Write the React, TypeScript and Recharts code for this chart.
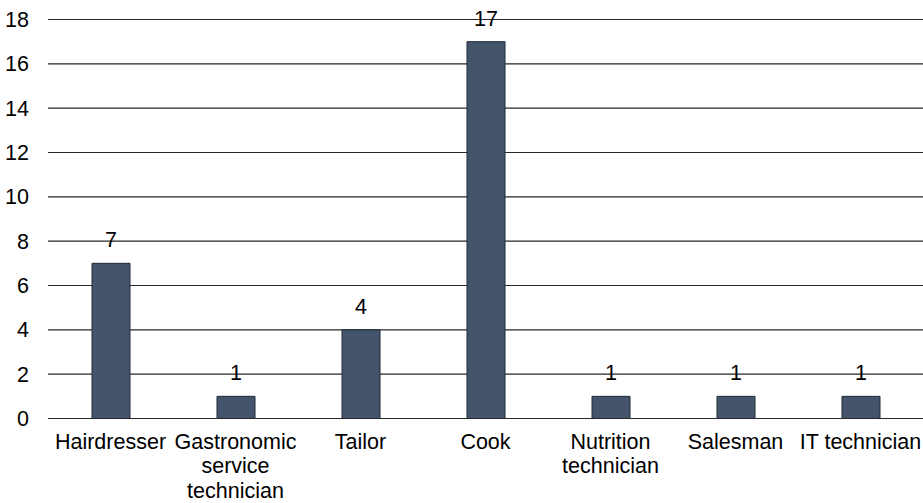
import React from "react";
import {
  BarChart,
  Bar,
  XAxis,
  YAxis,
  CartesianGrid,
  LabelList,
  Text,
} from "recharts";

const categories = [
  "Hairdresser",
  "Gastronomic service technician",
  "Tailor",
  "Cook",
  "Nutrition technician",
  "Salesman",
  "IT technician",
];
const counts = [7, 1, 4, 17, 1, 1, 1];
const yTicks = [0, 2, 4, 6, 8, 10, 12, 14, 16, 18];

const FONT = "'Liberation Sans', Arial, sans-serif";
const FONT_SIZE = 21.5;
const textStyle = { fontSize: FONT_SIZE, fontFamily: FONT };

const chartData = categories.map((name, i) => ({ name, value: counts[i] }));

// category names wrap inside their band (style is passed so Text measures words at the right size)
const CategoryTick = (props: any) => {
  const { x, y, payload } = props;
  return (
    <Text
      x={x}
      y={y}
      width={125}
      textAnchor="middle"
      verticalAnchor="start"
      lineHeight="1.15em"
      style={textStyle}
      fill="#000"
    >
      {payload.value}
    </Text>
  );
};

// value ticks sit a fixed gap left of where the gridlines begin
const ValueTick = (props: any) => {
  const { x, y, payload } = props;
  return (
    <Text
      x={x - 7}
      y={y}
      textAnchor="end"
      verticalAnchor="middle"
      style={textStyle}
      fill="#000"
    >
      {payload.value}
    </Text>
  );
};

export default function App() {
  return (
    <div style={{ position: "absolute", left: 0, top: 0, background: "#fff" }}>
      <BarChart
        width={923}
        height={503}
        data={chartData}
        margin={{ top: 19.5, right: 0, bottom: 0, left: 0 }}
      >
        <CartesianGrid vertical={false} stroke="#262626" strokeWidth={1.2} />
        <XAxis
          dataKey="name"
          interval={0}
          height={84.5}
          axisLine={{ stroke: "#262626", strokeWidth: 1.2 }}
          tickLine={false}
          tickSize={0}
          tickMargin={15}
          tick={<CategoryTick />}
        />
        <YAxis
          width={48}
          domain={[0, 18]}
          ticks={yTicks}
          axisLine={false}
          tickLine={false}
          tickSize={0}
          tickMargin={12}
          tick={<ValueTick />}
        />
        <Bar
          dataKey="value"
          barSize={38}
          fill="#44546A"
          stroke="#1F2A38"
          strokeWidth={1}
          isAnimationActive={false}
        >
          <LabelList
            dataKey="value"
            position="top"
            offset={16}
            style={textStyle}
            fill="#000"
          />
        </Bar>
      </BarChart>
    </div>
  );
}
